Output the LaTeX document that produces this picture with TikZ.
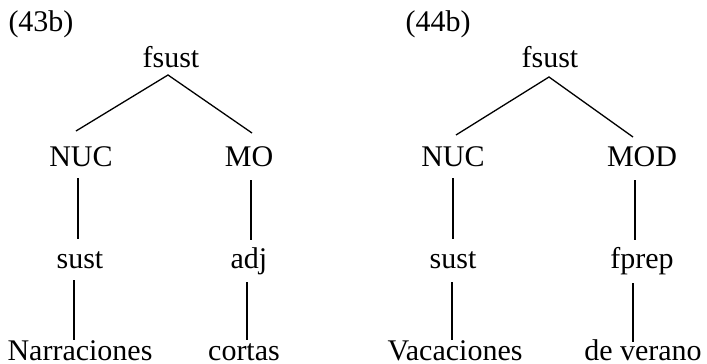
\documentclass[tikz,border=0pt]{standalone}
\usepackage{fontspec}
\setmainfont{Liberation Serif}
\begin{document}
\begin{tikzpicture}[x=1pt,y=-1pt,
  lbl/.style={anchor=base,inner sep=0pt,font=\fontsize{30}{36}\selectfont},
  leaf/.style={lbl,text depth=0pt},
  edge/.style={line width=1.3pt}]
\useasboundingbox (0,0) rectangle (707,364);

% first tree
\node[lbl] (l43)    at (41,31)   {(43b)};
\node[lbl] (f1)     at (171,67)  {fsust};
\node[lbl] (nuc1)   at (81,166)  {NUC};
\node[lbl] (mo1)    at (249,166) {MO};
\node[lbl] (sust1)  at (80,268)  {sust};
\node[lbl] (adj1)   at (249,268) {adj};
\node[leaf] (narr)   at (80,360)  {Narraciones};
\node[leaf] (cortas) at (244,360) {cortas};

\draw[edge] ([shift={(-5,-35)}]nuc1.base) -- ([shift={(-3,8)}]f1.base) -- ([shift={(3,-33)}]mo1.base);
\draw[edge] ([shift={(-3,12)}]nuc1.base) -- ([shift={(-2,-29)}]sust1.base);
\draw[edge] ([shift={(2,14)}]mo1.base) -- ([shift={(2,-28)}]adj1.base);
\draw[edge] ([shift={(-6,12)}]sust1.base) -- ([shift={(-6,-20)}]narr.base);
\draw[edge] ([shift={(-2,14)}]adj1.base) -- ([shift={(3,-20)}]cortas.base);

% second tree
\node[lbl] (l44)   at (438,31)  {(44b)};
\node[lbl] (f2)    at (550,67)  {fsust};
\node[lbl] (nuc2)  at (453,166) {NUC};
\node[lbl] (mod2)  at (642,166) {MOD};
\node[lbl] (sust2) at (453,268) {sust};
\node[lbl] (fprep) at (642,268) {fprep};
\node[leaf] (vac)   at (455,360) {Vacaciones};
\node[leaf] (dever) at (643,360) {de verano};

\draw[edge] ([shift={(3,-31)}]nuc2.base) -- ([shift={(-1,10)}]f2.base) -- ([shift={(-9,-29)}]mod2.base);
\draw[edge] ([shift={(0,12)}]nuc2.base) -- ([shift={(0,-29)}]sust2.base);
\draw[edge] ([shift={(-7,14)}]mod2.base) -- ([shift={(-7,-28)}]fprep.base);
\draw[edge] ([shift={(-1,14)}]sust2.base) -- ([shift={(-3,-20)}]vac.base);
\draw[edge] ([shift={(-9,15)}]fprep.base) -- ([shift={(-10,-18)}]dever.base);
\end{tikzpicture}
\end{document}
